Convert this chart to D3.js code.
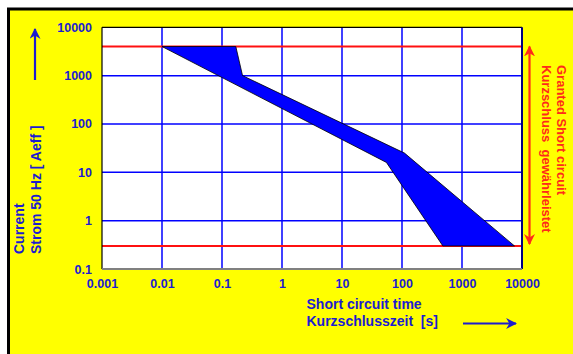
<!DOCTYPE html>
<html><head><meta charset="utf-8">
<script src="https://cdn.jsdelivr.net/npm/d3@7"></script>
<style>html,body{margin:0;padding:0;background:#fff;}svg{display:block;}</style>
</head><body>
<svg id="c" width="573" height="354"></svg>
<script>
// ---- data ----
const xTicks = [0.001, 0.01, 0.1, 1, 10, 100, 1000, 10000];
const xTickLabels = ["0.001", "0.01", "0.1", "1", "10", "100", "1000", "10000"];
const yTicks = [0.1, 1, 10, 100, 1000, 10000];
const yTickLabels = ["0.1", "1", "10", "100", "1000", "10000"];
const grantedLimits = [0.3, 4000];
// band: upper (right) boundary and lower (left) boundary, [time s, current A]
const bandUpper = [[0.01, 4000], [0.17, 4000], [0.22, 1000], [110, 25], [7500, 0.3]];
const bandLower = [[0.01, 4000], [55, 16], [480, 0.3]];

// ---- layout ----
const svg = d3.select("#c");
const L = 102, R = 522, T = 27.3, B = 269;
const blue = "#1c1cd0", red = "#ff2a1a", font = "'Liberation Sans', Arial, sans-serif";

svg.append("rect").attr("x", 8.5).attr("y", 9).attr("width", 573).attr("height", 354)
  .attr("fill", "#ffff00").attr("stroke", "#000").attr("stroke-width", 3);

const x = d3.scaleLog().domain([0.001, 10000]).range([L, R]);
const y = d3.scaleLog().domain([0.1, 10000]).range([B, T]);

svg.append("rect").attr("x", L).attr("y", T).attr("width", R - L).attr("height", B - T).attr("fill", "#fff");

// grid
const g = svg.append("g");
g.selectAll(".vx").data(xTicks.slice(1, -1)).join("line")
  .attr("x1", d => x(d)).attr("x2", d => x(d)).attr("y1", T).attr("y2", B)
  .attr("stroke", "#0000ff").attr("stroke-width", 1.5);
g.selectAll(".hy").data(yTicks.slice(1, -1)).join("line")
  .attr("y1", d => y(d)).attr("y2", d => y(d)).attr("x1", L).attr("x2", R)
  .attr("stroke", "#0000ff").attr("stroke-width", 1.5);

// red limit lines
g.selectAll(".lim").data(grantedLimits).join("line")
  .attr("x1", L).attr("x2", R).attr("y1", d => y(d)).attr("y2", d => y(d))
  .attr("stroke", "#ff1010").attr("stroke-width", 2);

// band polygon
const pts = bandUpper.concat(bandLower.slice().reverse());
svg.append("path")
  .attr("d", d3.line().x(d => x(d[0])).y(d => y(d[1]))(pts) + "Z")
  .attr("fill", "#0000ff").attr("stroke", "#000").attr("stroke-width", 0.8);

// frame
svg.append("line").attr("x1", L).attr("x2", L).attr("y1", T).attr("y2", B).attr("stroke", "#000").attr("stroke-width", 1.2);
svg.append("line").attr("x1", L).attr("x2", R).attr("y1", T).attr("y2", T).attr("stroke", "#000").attr("stroke-width", 1.2);
svg.append("line").attr("x1", R).attr("x2", R).attr("y1", T).attr("y2", B).attr("stroke", "#000080").attr("stroke-width", 2);
svg.append("line").attr("x1", L).attr("x2", R).attr("y1", B).attr("y2", B).attr("stroke", "#808080").attr("stroke-width", 2);

// axes labels via d3 axes
const xAxis = d3.axisBottom(x).tickValues(xTicks).tickFormat((d, i) => xTickLabels[i]).tickSize(0).tickPadding(0);
const xa = svg.append("g").attr("transform", `translate(0,${B + 10.5})`).call(xAxis);
const yAxis = d3.axisLeft(y).tickValues(yTicks).tickFormat((d, i) => yTickLabels[i]).tickSize(0).tickPadding(0);
const ya = svg.append("g").attr("transform", `translate(${L - 10},0)`).call(yAxis);
[xa, ya].forEach(a => {
  a.select(".domain").remove();
  a.selectAll("text").attr("fill", blue).attr("font-family", font).attr("font-weight", "bold").attr("font-size", "12.5px");
});

// x title
const xt = svg.append("text").attr("font-family", font).attr("font-weight", "bold").attr("font-size", "14px").attr("fill", blue);
xt.append("tspan").attr("x", 306.5).attr("y", 309).text("Short circuit time");
xt.append("tspan").attr("x", 306.5).attr("y", 326).attr("xml:space", "preserve").style("white-space", "pre").text("Kurzschlusszeit  [s]");

// y title
const yt = svg.append("text").attr("font-family", font).attr("font-weight", "bold").attr("font-size", "14px").attr("fill", blue)
  .attr("transform", "translate(0,254) rotate(-90)");
yt.append("tspan").attr("x", 0).attr("y", 24).text("Current");
yt.append("tspan").attr("x", 0).attr("y", 40.5).text("Strom 50 Hz [ Aeff ]");

// markers
const defs = svg.append("defs");
function mk(id, col) {
  defs.append("marker").attr("id", id).attr("viewBox", "0 0 10 10").attr("refX", 9).attr("refY", 5)
    .attr("markerWidth", 5).attr("markerHeight", 5).attr("orient", "auto-start-reverse").attr("markerUnits", "strokeWidth")
    .append("path").attr("d", "M0,0 L10,5 L0,10 L3,5 Z").attr("fill", col);
}
mk("ab", blue); mk("ar", red);

// blue arrows
svg.append("line").attr("x1", 35).attr("x2", 35).attr("y1", 80).attr("y2", 29)
  .attr("stroke", blue).attr("stroke-width", 2.2).attr("marker-end", "url(#ab)");
svg.append("line").attr("x1", 463).attr("x2", 516).attr("y1", 323.5).attr("y2", 323.5)
  .attr("stroke", blue).attr("stroke-width", 2.2).attr("marker-end", "url(#ab)");

// red double arrow
svg.append("line").attr("x1", 529.5).attr("x2", 529.5).attr("y1", y(grantedLimits[1])).attr("y2", 244)
  .attr("stroke", red).attr("stroke-width", 2.2).attr("marker-start", "url(#ar)").attr("marker-end", "url(#ar)");

// right title
const rt = svg.append("text").attr("font-family", font).attr("font-weight", "bold").attr("font-size", "13px").attr("fill", red)
  .attr("transform", "translate(0,65) rotate(90)");
rt.append("tspan").attr("x", 0).attr("y", -557).text("Granted Short circuit");
rt.append("tspan").attr("x", 0).attr("y", -541.5).attr("xml:space", "preserve").style("white-space", "pre").text("Kurzschluss  gewährleistet");
</script>
</body></html>
